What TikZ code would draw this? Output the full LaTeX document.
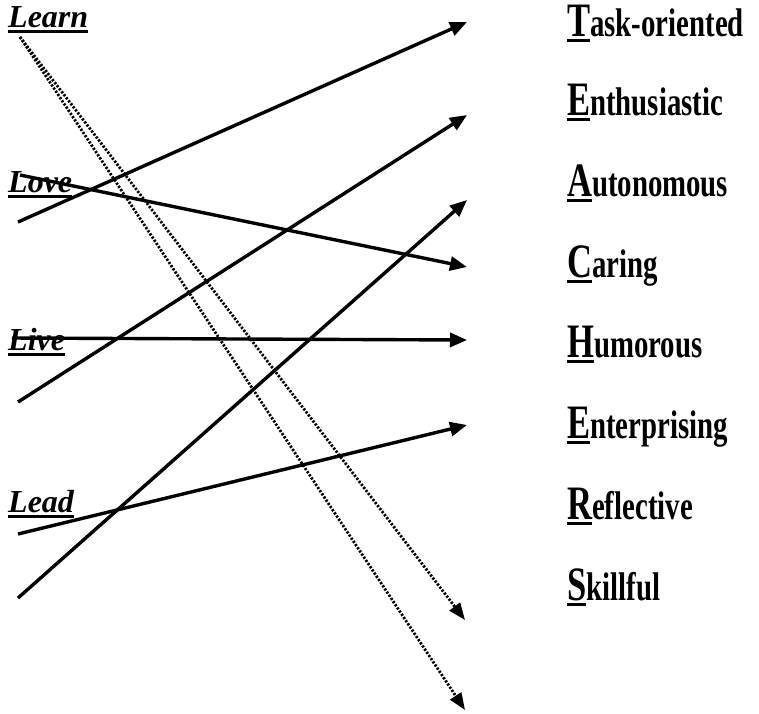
\documentclass[tikz,border=0pt]{standalone}
\usepackage{fontspec}
\setmainfont{Liberation Serif}
\newfontfamily\traitfont[FakeStretch=0.72]{Liberation Serif}
\usetikzlibrary{arrows.meta}
\tikzset{
  word/.style={
    anchor=base west,
    inner sep=0pt,
    font=\fontsize{32}{32}\selectfont\bfseries\itshape,
  },
  traitlabel/.style={
    anchor=base west,
    inner sep=0pt,
    font=\traitfont\fontsize{40}{40}\selectfont\bfseries,
  },
  link/.style={
    line width=3.4pt,
    -{Triangle[length=17pt,width=14pt]},
  },
  dotlink/.style={
    line width=2.8pt,
    dash pattern=on 2.2pt off 1.6pt,
    -{Triangle[length=17pt,width=13pt]},
  }
}
\newcommand{\ulword}[1]{%
  \setbox0\hbox{#1}\rlap{\rule[-5.5pt]{\wd0}{3pt}}\box0%
}
\newcommand{\trait}[4]{%
  \node[traitlabel] (#1) at (567,#2)
    {\ulword{\smash{\fontsize{48}{48}\selectfont #3}}#4};
}

\begin{document}
\begin{tikzpicture}[x=1pt,y=-1pt]
\useasboundingbox (0,0) rectangle (759,713);

% the four words
\node[word] (learn) at (8,27) {\ulword{Learn}};
\node[word] (love) at (8,192) {\ulword{Love}};
\node[word] (live) at (8,350) {\ulword{Live}};
\node[word] (lead) at (8,512) {\ulword{Lead}};

% TEACHERS
\trait{task}{36}{T}{ask-oriented}
\trait{enth}{115}{E}{nthusiastic}
\trait{auto}{196}{A}{utonomous}
\trait{caring}{277}{C}{aring}
\trait{humor}{357}{H}{umorous}
\trait{enter}{438}{E}{nterprising}
\trait{refl}{519}{R}{eflective}
\trait{skill}{600}{S}{killful}

% line ends
\coordinate (s1) at (18,222);
\coordinate (s2) at (20,175);
\coordinate (s3) at (18,402);
\coordinate (s4) at (12,338);
\coordinate (s5) at (18,598);
\coordinate (s6) at (18,534);
\coordinate (s7) at (20,37);

\coordinate (e1) at (467,22);
\coordinate (e2) at (467,267);
\coordinate (e3) at (467,115);
\coordinate (e4) at (467,340);
\coordinate (e5) at (467,200);
\coordinate (e6) at (467,425);
\coordinate (e7) at (465,620);
\coordinate (e8) at (465,710);

\draw[link] (s1) -- (e1);
\draw[link] (s2) -- (e2);
\draw[link] (s3) -- (e3);
\draw[link] (s4) -- (e4);
\draw[link] (s5) -- (e5);
\draw[link] (s6) -- (e6);
\draw[dotlink] (s7) -- (e7);
\draw[dotlink] (s7) -- (e8);

\end{tikzpicture}
\end{document}
